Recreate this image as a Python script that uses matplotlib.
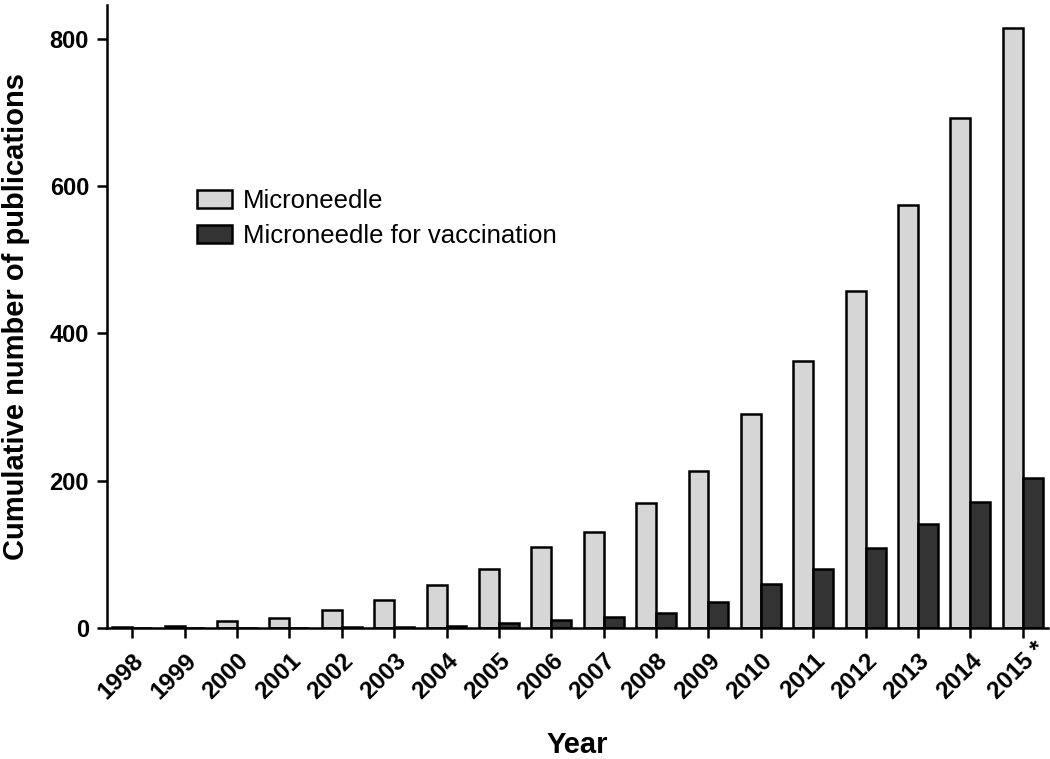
import matplotlib
matplotlib.use("Agg")
import matplotlib.pyplot as plt
import matplotlib.transforms as mtransforms
import numpy as np

plt.rcParams['font.family'] = ['Liberation Sans', 'DejaVu Sans']

years = ["1998", "1999", "2000", "2001", "2002", "2003", "2004", "2005", "2006",
         "2007", "2008", "2009", "2010", "2011", "2012", "2013", "2014", "2015 *"]
microneedle = [1, 3, 9, 13, 24, 38, 58, 80, 110, 130, 170, 213, 290, 363, 458, 575, 692, 815]
vaccination = [0, 0, 0, 0, 1, 1, 3, 7, 11, 15, 20, 35, 60, 80, 109, 141, 171, 204]

fig = plt.figure(figsize=(10.5, 7.59), dpi=100)
ax = fig.add_axes([0.102, 0.1726, 0.896, 0.8208])

x = np.arange(len(years))
w = 0.38
ax.bar(x - w / 2, microneedle, w, color="#d6d6d6", edgecolor="black", linewidth=1.8,
       label="Microneedle")
ax.bar(x + w / 2, vaccination, w, color="#333333", edgecolor="black", linewidth=1.8,
       label="Microneedle for vaccination")

ax.set_xlim(-0.48, 17.48)
ax.set_ylim(0, 846)
ax.set_yticks([0, 200, 400, 600, 800])
ax.set_xticks(x)
ax.set_xticklabels(years, rotation=45, ha="right", rotation_mode="anchor")

for s in ["top", "right"]:
    ax.spines[s].set_visible(False)
for s in ["left", "bottom"]:
    ax.spines[s].set_linewidth(1.8)
ax.tick_params(width=1.8, length=7)
ax.tick_params(axis="y", labelsize=17, pad=6)
ax.tick_params(axis="x", labelsize=17.5, pad=8)
for lab in ax.get_xticklabels() + ax.get_yticklabels():
    lab.set_fontweight("bold")

# keep the digits of "2015 *" aligned like the other years, the asterisk sticks out
last = ax.get_xticklabels()[-1]
last.set_transform(last.get_transform() +
                   mtransforms.ScaledTranslation(8 / 72, 8 / 72, fig.dpi_scale_trans))

ax.set_ylabel("Cumulative number of publications", fontsize=21, fontweight="bold", labelpad=14)
ax.set_xlabel("Year", fontsize=21, fontweight="bold", labelpad=20)

ax.legend(loc="upper left", bbox_to_anchor=(0.0957, 0.705), frameon=False, fontsize=18.5,
          borderpad=0, borderaxespad=0,
          handlelength=1.36, handleheight=0.7, handletextpad=0.43, labelspacing=0.45)

fig.savefig("out.png", dpi=100)
